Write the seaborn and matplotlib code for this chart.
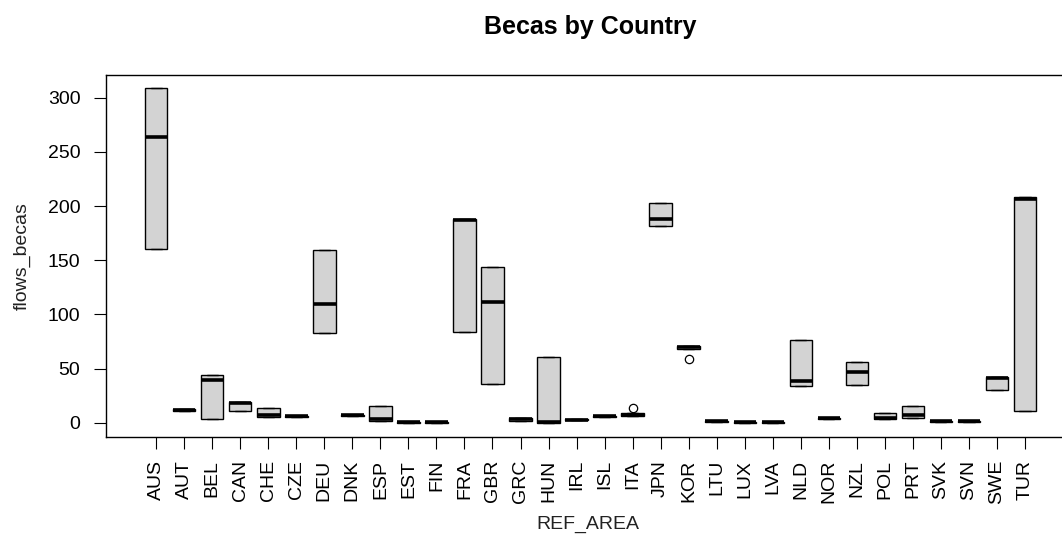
import matplotlib
matplotlib.use("Agg")
import matplotlib.pyplot as plt
import seaborn as sns
import pandas as pd

countries = ["AUS", "AUT", "BEL", "CAN", "CHE", "CZE", "DEU", "DNK", "ESP", "EST",
             "FIN", "FRA", "GBR", "GRC", "HUN", "IRL", "ISL", "ITA", "JPN", "KOR",
             "LTU", "LUX", "LVA", "NLD", "NOR", "NZL", "POL", "PRT", "SVK", "SVN",
             "SWE", "TUR"]
lower_hinge = [160, 10.5, 3, 10.5, 5, 5.2, 83, 6.2, 1.2, 0, 0, 84, 36, 2, 0, 2.2,
               5.2, 5.8, 182, 68.5, 1, 0, 0, 33.5, 3, 35, 3, 4.5, 1, 1, 30, 10.5]
medians = [264, 11.5, 39, 18.5, 7.5, 6, 110, 7, 3, 0.3, 0.3, 187, 111, 3.5, 0.8, 2.8,
           6, 7.2, 188, 70, 1.5, 0.3, 0.3, 38.5, 4, 47, 4.5, 7, 1.5, 1.5, 41, 207]
upper_hinge = [309, 12.5, 44, 19.5, 13.5, 6.6, 159, 7.6, 15.5, 0.6, 0.6, 188, 144, 4.8,
               61, 3.4, 6.6, 8.6, 203, 71, 2, 0.6, 0.6, 76, 4.6, 56, 9, 15, 2, 2, 42, 208]
outlier_country = ["ITA", "KOR"]
outlier_value = [13.5, 59]

rows = []
for c, lo, md, hi in zip(countries, lower_hinge, medians, upper_hinge):
    vals = [lo, lo, lo, md, hi, hi, hi]
    for oc, ov in zip(outlier_country, outlier_value):
        if oc == c:
            if ov < lo:
                vals[0] = ov
            else:
                vals[-1] = ov
    for v in vals:
        rows.append({"REF_AREA": c, "flows_becas": v})
df = pd.DataFrame(rows)

sns.set_theme(style="white")
plt.rcParams["font.family"] = ["Liberation Sans", "DejaVu Sans"]

fig = plt.figure(figsize=(10.62, 5.35), dpi=100)
ax = fig.add_axes([0.1001, 0.1837, 0.912, 0.6755])

sns.boxplot(data=df, x="REF_AREA", y="flows_becas", order=countries, ax=ax,
            color="#D3D3D3", saturation=1, width=0.8, linecolor="black",
            linewidth=1.0, whis=1.5,
            medianprops=dict(color="black", linewidth=2.6),
            whiskerprops=dict(color="black", linewidth=1.0, linestyle="--"),
            capprops=dict(color="black", linewidth=1.0),
            flierprops=dict(marker="o", markerfacecolor="none",
                            markeredgecolor="black", markersize=6,
                            markeredgewidth=0.9))

ax.set_xlim(-1.78, 32.78)
ax.set_ylim(-12.9, 320.7)
ax.set_yticks([0, 50, 100, 150, 200, 250, 300])
ax.set_xlabel("")
ax.set_ylabel("")
for s in ax.spines.values():
    s.set_visible(True)
    s.set_color("black")
    s.set_linewidth(1.0)
ax.tick_params(axis="both", which="major", length=8.6, width=0.8,
               color="black", labelcolor="black", labelsize=14)
ax.tick_params(axis="y", pad=10, left=True)
ax.tick_params(axis="x", pad=8, bottom=True, labelrotation=90)

fig.text(0.5556, 0.9495, "Becas by Country", ha="center", va="center",
         fontsize=18, fontweight="bold", color="black")
fig.text(22 / 1062, 0.5215, "flows_becas", rotation=90, ha="center",
         va="center", fontsize=14, color="#222222")
fig.text(0.5537, 1 - 524 / 535, "REF_AREA", ha="center", va="center",
         fontsize=14, color="#222222")

fig.savefig("out.png", dpi=100)
